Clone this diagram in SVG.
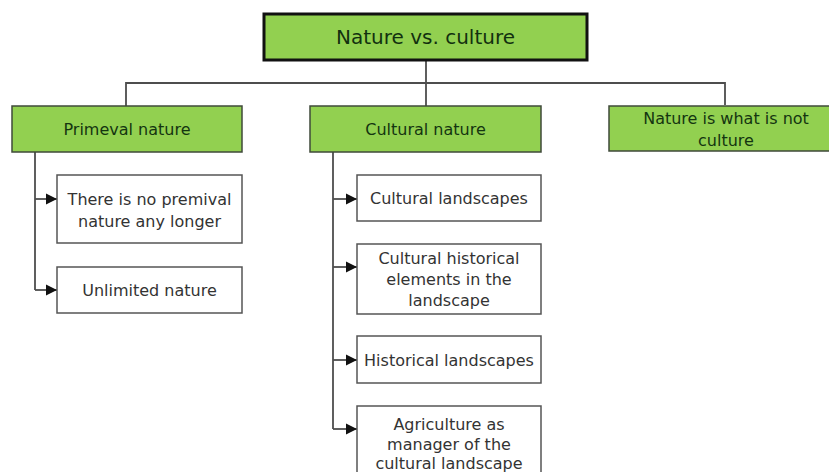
<svg xmlns="http://www.w3.org/2000/svg" width="829" height="472" viewBox="0 0 829 472">
  <style>
    .bg { fill: #ffffff; }
    .root rect { fill: #92d050; stroke: #111111; stroke-width: 3; }
    .cat rect { fill: #92d050; stroke: #3f4a3a; stroke-width: 1.5; }
    .leaf rect { fill: #ffffff; stroke: #555555; stroke-width: 1.5; }
    text { font-family: "DejaVu Sans", Verdana, sans-serif; text-anchor: middle; }
    .root text { font-size: 20px; fill: #12300f; }
    .cat text { font-size: 16px; fill: #143510; }
    .leaf text { font-size: 16px; fill: #333333; }
    .conn path { fill: none; stroke: #4d4d4d; stroke-width: 1.8; }
    .conn .arr { marker-end: url(#tip); }
  </style>
  <defs>
    <marker id="tip" markerWidth="13" markerHeight="13" refX="12" refY="6.5" orient="auto" markerUnits="userSpaceOnUse">
      <path d="M1,1 L12,6.5 L1,12 Z" fill="#111111"/>
    </marker>
  </defs>
  <rect class="bg" x="0" y="0" width="829" height="472"/>

  <g id="connectors" class="conn">
    <path d="M426,60 V83"/>
    <path d="M126,106 V83 H725 V105"/>
    <path d="M426,83 V106"/>
    <path d="M35,152 V290"/>
    <path class="arr" d="M35,199 H57"/>
    <path class="arr" d="M35,290 H57"/>
    <path d="M333,152 V429"/>
    <path class="arr" d="M333,199 H357"/>
    <path class="arr" d="M333,267 H357"/>
    <path class="arr" d="M333,360 H357"/>
    <path class="arr" d="M333,429 H357"/>
  </g>

  <g id="nature-vs-culture" class="root">
    <rect x="264" y="14" width="323" height="46"/>
    <text x="425.5" y="44">Nature vs. culture</text>
  </g>

  <g id="primeval-nature" class="cat">
    <rect x="12" y="106" width="230" height="46"/>
    <text x="127" y="135">Primeval nature</text>
  </g>
  <g id="cultural-nature" class="cat">
    <rect x="310" y="106" width="231" height="46"/>
    <text x="425.5" y="135">Cultural nature</text>
  </g>
  <g id="nature-not-culture" class="cat">
    <rect x="609" y="106" width="232" height="45"/>
    <text x="726" y="124">Nature is what is not</text>
    <text x="726" y="146">culture</text>
  </g>

  <g id="no-primeval" class="leaf">
    <rect x="57" y="175" width="185" height="68"/>
    <text x="149.5" y="205">There is no premival</text>
    <text x="149.5" y="227">nature any longer</text>
  </g>
  <g id="unlimited-nature" class="leaf">
    <rect x="57" y="267" width="185" height="46"/>
    <text x="149.5" y="296">Unlimited nature</text>
  </g>

  <g id="cultural-landscapes" class="leaf">
    <rect x="357" y="175" width="184" height="46"/>
    <text x="449" y="204">Cultural landscapes</text>
  </g>
  <g id="cultural-historical" class="leaf">
    <rect x="357" y="244" width="184" height="70"/>
    <text x="449" y="264">Cultural historical</text>
    <text x="449" y="285">elements in the</text>
    <text x="449" y="306">landscape</text>
  </g>
  <g id="historical-landscapes" class="leaf">
    <rect x="357" y="336" width="184" height="47"/>
    <text x="449" y="366">Historical landscapes</text>
  </g>
  <g id="agriculture" class="leaf">
    <rect x="357" y="406" width="184" height="76"/>
    <text x="449" y="430">Agriculture as</text>
    <text x="449" y="450">manager of the</text>
    <text x="449" y="469">cultural landscape</text>
  </g>
</svg>
